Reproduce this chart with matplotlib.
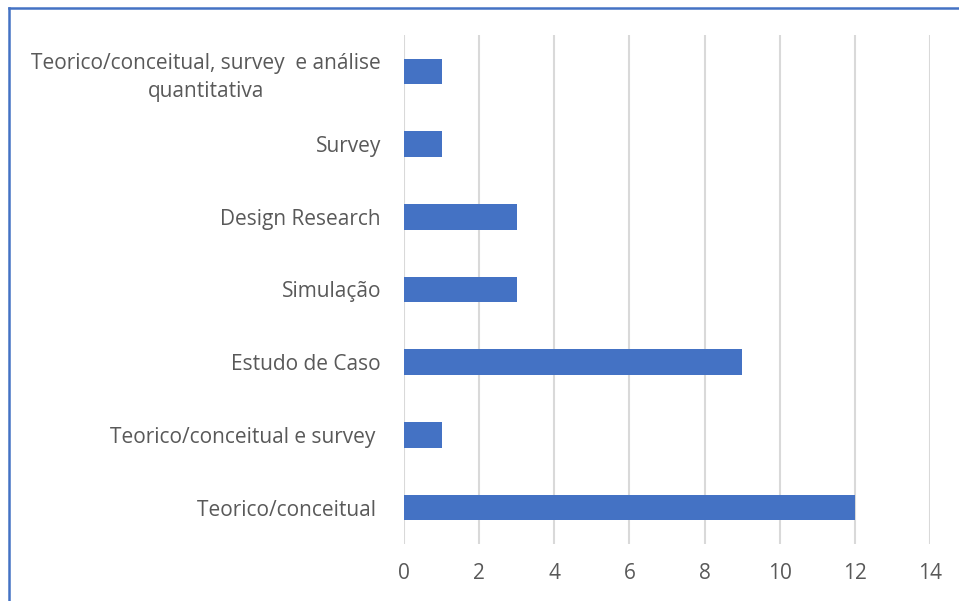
import matplotlib
matplotlib.use("Agg")
import matplotlib.pyplot as plt
from matplotlib.lines import Line2D

categories = [
    "Teorico/conceitual ",
    "Teorico/conceitual e survey ",
    "Estudo de Caso",
    "Simulação",
    "Design Research",
    "Survey",
    "Teorico/conceitual, survey  e análise\nquantitativa",
]
values = [12, 1, 9, 3, 3, 1, 1]
xticks = [0, 2, 4, 6, 8, 10, 12, 14]

plt.rcParams['font.family'] = ['Open Sans', 'DejaVu Sans']

fig = plt.figure(figsize=(9.59, 6.01), dpi=100)
ax = fig.add_axes([404/959, 1-544/601, (930-404)/959, (544-35)/601])

ypos = list(range(len(categories)))
ax.barh(ypos, values, height=0.35, color="#4472C4", zorder=3)
ax.set_ylim(-0.5, len(categories) - 0.5)
ax.set_xlim(0, 14)
ax.set_xticks(xticks)
ax.set_xticklabels([str(t) for t in xticks])
ax.set_yticks(ypos)
ax.set_yticklabels(categories, multialignment="center", linespacing=1.45)
ax.grid(axis="x", color="#D9D9D9", linewidth=1.5, zorder=0)
for s in ax.spines.values():
    s.set_visible(False)
ax.tick_params(axis="both", length=0, colors="#595959", labelsize=15)
ax.tick_params(axis="y", pad=16.5)
ax.tick_params(axis="x", pad=14)

# outer chart border (left and top visible)
fig.add_artist(Line2D([9/959, 9/959], [0, 1-8/601], transform=fig.transFigure, color="#4472C4", linewidth=1.8))
fig.add_artist(Line2D([9/959, 1], [1-8/601, 1-8/601], transform=fig.transFigure, color="#4472C4", linewidth=1.8))

fig.savefig("out.png", dpi=100)
